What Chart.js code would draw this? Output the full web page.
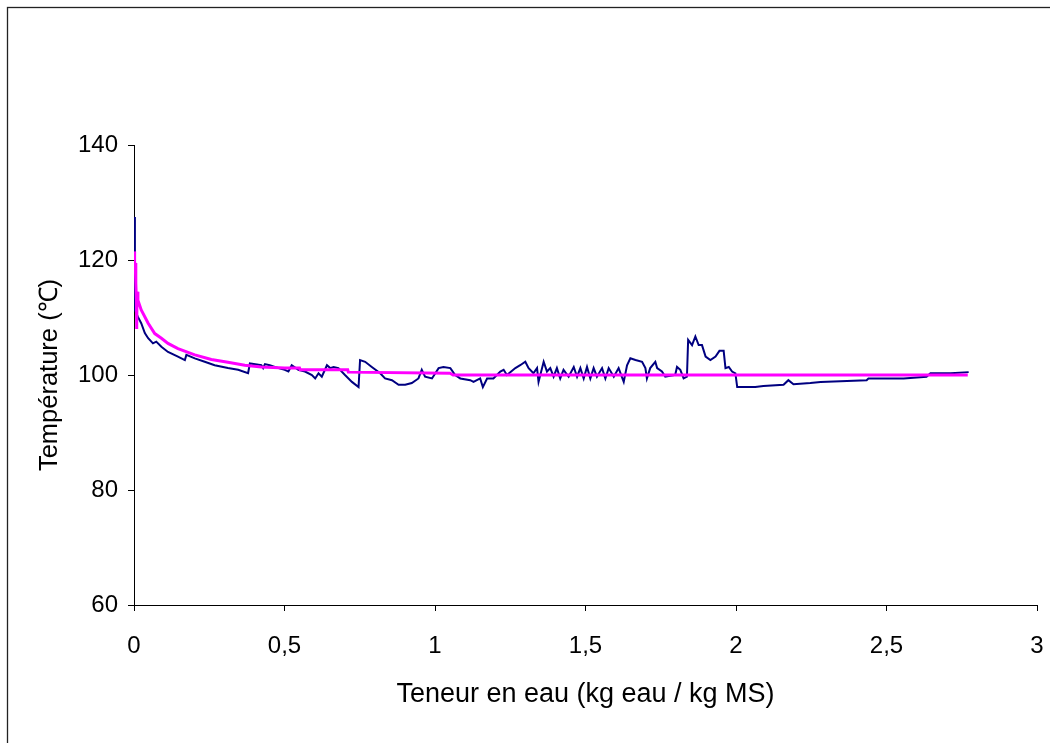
<!DOCTYPE html>
<html>
<head>
<meta charset="utf-8">
<script src="https://cdn.jsdelivr.net/npm/chart.js@4"></script>
<style>
html,body{margin:0;padding:0;background:#fff;}
#wrap{width:1050px;height:743px;position:relative;}
</style>
</head>
<body>
<div id="wrap"><canvas id="c" width="1050" height="743"></canvas></div>
<script>
// Measured series (Teneur en eau vs Température)
const navyX = [0, 0.003, 0.013, 0.024, 0.036, 0.047, 0.063, 0.074, 0.091, 0.113, 0.146, 0.169, 0.174, 0.202, 0.235, 0.268, 0.312, 0.346, 0.379, 0.385, 0.423, 0.429, 0.435, 0.451, 0.468, 0.501, 0.513, 0.524, 0.546, 0.568, 0.591, 0.602, 0.613, 0.624, 0.641, 0.652, 0.663, 0.679, 0.701, 0.724, 0.746, 0.751, 0.768, 0.790, 0.818, 0.834, 0.857, 0.879, 0.901, 0.923, 0.945, 0.956, 0.967, 0.990, 1.012, 1.028, 1.051, 1.067, 1.084, 1.117, 1.128, 1.150, 1.159, 1.173, 1.194, 1.217, 1.228, 1.239, 1.267, 1.283, 1.300, 1.311, 1.327, 1.339, 1.344, 1.361, 1.372, 1.383, 1.394, 1.405, 1.416, 1.427, 1.444, 1.461, 1.472, 1.483, 1.494, 1.505, 1.516, 1.527, 1.538, 1.555, 1.566, 1.577, 1.594, 1.610, 1.627, 1.638, 1.649, 1.666, 1.688, 1.699, 1.704, 1.715, 1.732, 1.738, 1.754, 1.765, 1.798, 1.804, 1.815, 1.826, 1.837, 1.841, 1.854, 1.865, 1.876, 1.887, 1.899, 1.915, 1.932, 1.945, 1.959, 1.965, 1.976, 1.987, 1.998, 2.004, 2.064, 2.091, 2.158, 2.174, 2.191, 2.247, 2.281, 2.434, 2.440, 2.557, 2.633, 2.646, 2.713, 2.773];
const navyY = [127.5, 111.3, 110.1, 109.0, 107.3, 106.4, 105.5, 105.8, 104.9, 104.0, 103.2, 102.6, 103.5, 102.9, 102.3, 101.7, 101.2, 100.9, 100.3, 102.0, 101.7, 101.2, 101.9, 101.7, 101.4, 100.9, 100.6, 101.7, 100.9, 100.6, 100.0, 99.4, 100.3, 99.7, 101.7, 101.2, 101.4, 101.2, 100.0, 98.8, 97.9, 102.6, 102.3, 101.4, 100.3, 99.4, 99.1, 98.3, 98.3, 98.6, 99.4, 100.9, 99.7, 99.4, 101.2, 101.4, 101.2, 100.0, 99.4, 99.1, 98.8, 99.4, 97.9, 99.4, 99.4, 100.6, 100.9, 100.0, 101.2, 101.7, 102.3, 101.2, 100.3, 101.2, 98.8, 102.3, 100.6, 101.2, 99.7, 101.2, 99.4, 100.9, 99.7, 101.4, 99.7, 101.2, 99.4, 101.4, 99.4, 101.2, 99.7, 101.2, 99.4, 101.2, 99.7, 101.2, 98.8, 101.7, 102.9, 102.6, 102.3, 101.2, 99.4, 101.2, 102.3, 101.2, 100.6, 99.7, 100.0, 101.4, 100.9, 99.4, 99.7, 106.1, 105.2, 106.7, 105.2, 105.2, 103.2, 102.6, 103.2, 104.2, 104.2, 101.2, 101.4, 100.6, 100.3, 97.9, 97.9, 98.1, 98.3, 99.1, 98.4, 98.6, 98.8, 99.1, 99.4, 99.4, 99.7, 100.3, 100.3, 100.5];

// Model series (magenta)
const fitX = [0, 0.002, 0.004, 0.006, 0.008, 0.009, 0.010, 0.013, 0.024, 0.047, 0.069, 0.091, 0.113, 0.146, 0.202, 0.257, 0.312, 0.368, 0.423, 0.501, 0.550, 0.552, 0.710, 0.712, 1.050, 1.060, 2.770];
const fitY = [121.5, 118.5, 119.5, 116.0, 113.0, 108.0, 114.5, 113.0, 111.3, 109.0, 107.2, 106.4, 105.5, 104.6, 103.5, 102.7, 102.2, 101.7, 101.4, 101.2, 101.2, 100.9, 100.9, 100.5, 100.3, 100.0, 100.0];

const xTickLabels = ['0', '0,5', '1', '1,5', '2', '2,5', '3'];
const yTickLabels = ['60', '80', '100', '120', '140'];
const xTitle = 'Teneur en eau (kg eau / kg MS)';
const yTitle = 'Température (℃)';

const toPts = (xs, ys) => xs.map((x, i) => ({x: x, y: ys[i]}));

const frame = {
  id: 'frame',
  beforeDraw(chart) {
    const ctx = chart.ctx;
    ctx.save();
    ctx.fillStyle = '#fff';
    ctx.fillRect(0, 0, chart.width, chart.height);
    ctx.strokeStyle = '#222';
    ctx.lineWidth = 1.3;
    ctx.strokeRect(7.5, 7.5, 1100, 800);
    ctx.restore();
  }
};

const FONT = "'Liberation Sans', Arial, sans-serif";

new Chart(document.getElementById('c'), {
  type: 'line',
  data: {
    datasets: [
      {
        data: toPts(fitX, fitY),
        borderColor: '#ff00ff',
        borderWidth: 3,
        pointRadius: 0,
        tension: 0,
        order: 1
      },
      {
        data: toPts(navyX, navyY),
        borderColor: '#000080',
        borderWidth: 2,
        pointRadius: 0,
        tension: 0,
        order: 2
      }
    ]
  },
  options: {
    responsive: false,
    animation: false,
    events: [],
    layout: { padding: { top: 145, right: 13, left: 35, bottom: 32 } },
    plugins: { legend: { display: false }, tooltip: { enabled: false } },
    scales: {
      x: {
        type: 'linear',
        min: 0, max: 3,
        afterFit(s) { s.height = 106; s.paddingLeft = 0; s.paddingRight = 0; },
        afterBuildTicks(s) { s.ticks = xTickLabels.map((_, i) => ({ value: i * 0.5 })); },
        ticks: {
          color: '#000',
          font: { family: FONT, size: 24 },
          padding: 21,
          maxRotation: 0,
          autoSkip: false,
          callback: (v, i) => xTickLabels[i]
        },
        grid: { drawOnChartArea: false, tickLength: 6, color: '#000', tickColor: '#000' },
        border: { color: '#000', width: 1 },
        title: {
          display: true,
          text: xTitle,
          color: '#000',
          font: { family: FONT, size: 27 },
          padding: { top: 0, bottom: 0 }
        }
      },
      y: {
        type: 'linear',
        min: 60, max: 140,
        afterFit(s) { s.width = 99; s.paddingTop = 0; s.paddingBottom = 0; },
        afterBuildTicks(s) { s.ticks = yTickLabels.map((_, i) => ({ value: 60 + i * 20 })); },
        ticks: {
          color: '#000',
          font: { family: FONT, size: 24 },
          padding: 10,
          autoSkip: false,
          callback: (v, i) => yTickLabels[i]
        },
        grid: { drawOnChartArea: false, tickLength: 6, color: '#000', tickColor: '#000' },
        border: { color: '#000', width: 1 },
        title: {
          display: true,
          text: yTitle,
          color: '#000',
          font: { family: FONT, size: 25.5 },
          padding: { top: 0, bottom: 0 }
        }
      }
    }
  },
  plugins: [frame]
});
</script>
</body>
</html>
